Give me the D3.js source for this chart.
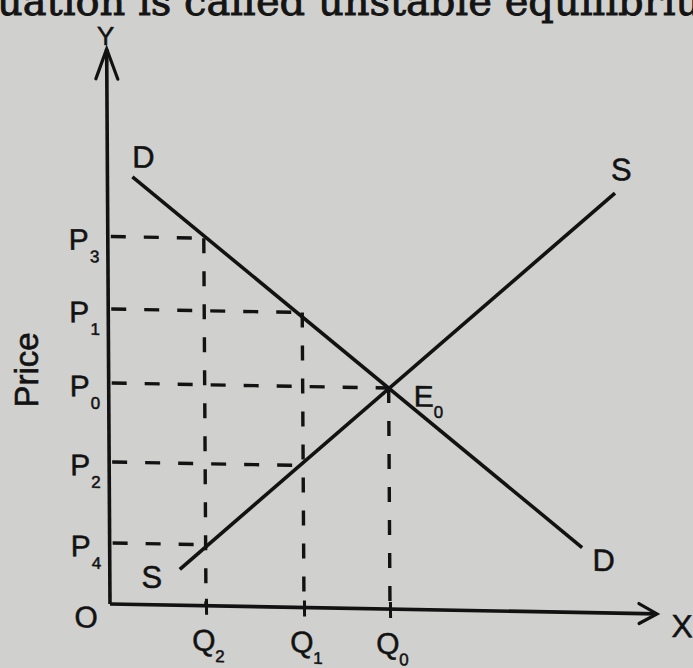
<!DOCTYPE html>
<html>
<head>
<meta charset="utf-8">
<script src="https://cdn.jsdelivr.net/npm/d3@7"></script>
<style>
  html, body { margin: 0; padding: 0; background: #d0d0ce; overflow: hidden; }
  svg { display: block; }
</style>
</head>
<body>
<script>
// Quantities on the X axis (Q2, Q1, Q0)
const qtySubs = ["2", "1", "0"];
const qtyValues = [1.92, 3.88, 5.6];
// Price levels on the Y axis (P3, P1, P0, P2, P4)
const priceSubs = ["3", "1", "0", "2", "4"];
const priceValues = [7.35, 5.9, 4.42, 2.84, 1.22];
// Quantity at which each dashed price line stops
const priceGuideEnds = [1.92, 3.88, 5.6, 3.88, 1.92];
// Price at which each dashed quantity line stops
const qtyGuideEnds = [7.35, 5.9, 4.42];
// Demand and supply lines (quantity, price)
const demandLine = [[0.5, 8.55], [9.45, 1.3]];
const supplyLine = [[1.4, 0.72], [10.15, 8.40]];
// Axis extents
const xAxisMax = 10.94;
const yAxisMax = 11.1;

const W = 693, H = 668;
const svg = d3.select("body").append("svg").attr("width", W).attr("height", H);

svg.append("rect").attr("width", W).attr("height", H).attr("fill", "#d0d0ce");

// heading line of the page
svg.append("text")
  .attr("x", -3).attr("y", 15)
  .attr("font-family", "DejaVu Serif, serif")
  .attr("font-size", 40)
  .attr("fill", "#141414")
  .attr("stroke", "#141414").attr("stroke-width", 0.9)
  .text("uation is called unstable equilibrium");

const font = "Liberation Sans, Arial, Helvetica, sans-serif";
const ink = "#121212";

// Y axis title
svg.append("text")
  .attr("transform", "translate(38,370) rotate(-90)")
  .attr("text-anchor", "middle")
  .attr("font-family", font).attr("font-size", 33)
  .attr("fill", ink).attr("stroke", ink).attr("stroke-width", 0.6)
  .text("Price");

const ox = 110, oy = 604;
const g = svg.append("g")
  .attr("transform", `translate(${ox},${oy}) matrix(1,0.018,0.006,1,0,0) translate(${-ox},${-oy})`);

const x = d3.scaleLinear().domain([0, 11]).range([ox, 660]);
const y = d3.scaleLinear().domain([0, 11]).range([oy, 54]);

const line = d3.line().x(d => x(d[0])).y(d => y(d[1]));

// dashed guides: price levels
g.append("g").selectAll("path").data(priceValues).join("path")
  .attr("d", (p, i) => line([[0, p], [priceGuideEnds[i], p]]))
  .attr("fill", "none").attr("stroke", ink)
  .attr("stroke-width", 3.4).attr("stroke-dasharray", "15 18")
  .attr("stroke-dashoffset", -3);

// dashed guides: quantities (drawn from the curve downward)
g.append("g").selectAll("path").data(qtyValues).join("path")
  .attr("d", (q, i) => line([[q, qtyGuideEnds[i]], [q, 0]]))
  .attr("fill", "none").attr("stroke", ink)
  .attr("stroke-width", 3.4).attr("stroke-dasharray", "15 18");

// axes
g.append("path").attr("d", line([[0, 0], [xAxisMax, 0]]))
  .attr("stroke", ink).attr("stroke-width", 3.6).attr("fill", "none");
g.append("path").attr("d", line([[0, 0], [0, yAxisMax]]))
  .attr("stroke", ink).attr("stroke-width", 3.6).attr("fill", "none");

// arrow heads
const tipX = [x(xAxisMax), y(0)];
g.append("path")
  .attr("d", `M${tipX[0] - 18},${tipX[1] - 10}L${tipX[0]},${tipX[1]}L${tipX[0] - 18},${tipX[1] + 10}`)
  .attr("stroke", ink).attr("stroke-width", 3.2).attr("fill", "none")
  .attr("stroke-linecap", "round").attr("stroke-linejoin", "miter");
const tipY = [x(0), y(yAxisMax)];
g.append("path")
  .attr("d", `M${tipY[0] - 11},${tipY[1] + 30}L${tipY[0]},${tipY[1]}L${tipY[0] + 11},${tipY[1] + 30}`)
  .attr("stroke", ink).attr("stroke-width", 3.2).attr("fill", "none")
  .attr("stroke-linecap", "round").attr("stroke-linejoin", "miter");

// quantity ticks crossing the X axis
const xTicks = g.append("g").attr("transform", `translate(0,${oy})`)
  .call(d3.axisBottom(x).tickValues(qtyValues).tickFormat("").tickSizeOuter(0));
xTicks.select(".domain").remove();
xTicks.selectAll(".tick line")
  .attr("y1", -7).attr("y2", 9)
  .attr("stroke", ink).attr("stroke-width", 3);

// demand and supply
g.append("path").attr("d", line(demandLine))
  .attr("stroke", ink).attr("stroke-width", 3.6).attr("fill", "none");
g.append("path").attr("d", line(supplyLine))
  .attr("stroke", ink).attr("stroke-width", 3.6).attr("fill", "none");

// letter with subscript
function subLabel(sel, px, py, main, sub, size, subSize, subDx, subDy) {
  const t = sel.append("text")
    .attr("x", px).attr("y", py)
    .attr("font-family", font).attr("font-size", size).attr("fill", ink)
    .attr("stroke", ink).attr("stroke-width", 0.5);
  t.append("tspan").text(main);
  t.append("tspan").attr("x", px + subDx).attr("dy", subDy)
    .attr("font-size", subSize).text(sub);
  return t;
}

// price labels
priceValues.forEach((p, i) => {
  subLabel(g, 71, y(p) + 14, "P", priceSubs[i], 30, 17, 21, 12);
});
// quantity labels
qtyValues.forEach((q, i) => {
  subLabel(g, x(q) - 14, 649, "Q", qtySubs[i], 30, 17, 23, 11);
});
// equilibrium point label
subLabel(g, 415, 401, "E", "0", 30, 17, 20, 11);

// plain letters
const plain = [
  ["O", 86, 628, 30],
  ["X", 682, 627, 32],
  ["Y", 109, 45, 26],
  ["D", 146, 167, 31],
  ["D", 604, 562, 31],
  ["S", 624, 171, 31],
  ["S", 152, 587, 31]
];
g.append("g").selectAll("text").data(plain).join("text")
  .attr("x", d => d[1]).attr("y", d => d[2])
  .attr("text-anchor", "middle")
  .attr("font-family", font).attr("font-size", d => d[3])
  .attr("fill", ink).attr("stroke", ink).attr("stroke-width", 0.5)
  .text(d => d[0]);
</script>
</body>
</html>
